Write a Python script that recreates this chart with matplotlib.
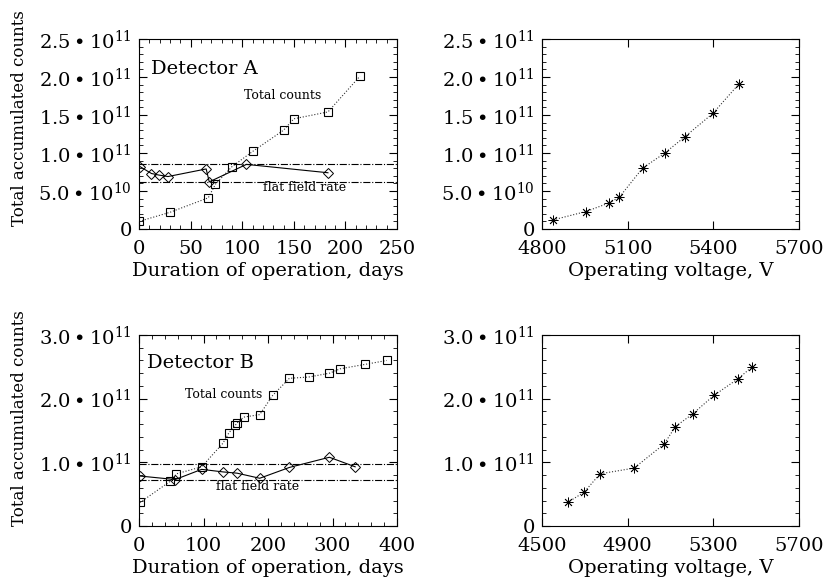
import matplotlib
matplotlib.use("Agg")
import matplotlib.pyplot as plt
from matplotlib.ticker import MultipleLocator, FixedLocator, AutoMinorLocator, FuncFormatter

plt.rcParams["font.family"] = ["DejaVu Serif"]
plt.rcParams["mathtext.fontset"] = "dejavuserif"

# Detector A, counts vs days
a_days = [0, 30, 67, 74, 90, 110, 140, 150, 183, 214]
a_counts = [0.10e11, 0.22e11, 0.41e11, 0.59e11, 0.82e11, 1.02e11, 1.30e11, 1.45e11, 1.54e11, 2.01e11]
# Detector A, flat field rate (diamonds)
a_rate_days = [1, 12, 19, 28, 65, 68, 104, 183]
a_rate = [0.82e11, 0.73e11, 0.71e11, 0.69e11, 0.79e11, 0.62e11, 0.85e11, 0.74e11]
a_flat_lines = [0.85e11, 0.62e11]

# Detector A, counts vs voltage
a_volt = [4839, 4954, 5033, 5071, 5152, 5230, 5299, 5398, 5490]
a_volt_counts = [0.12e11, 0.23e11, 0.34e11, 0.42e11, 0.80e11, 1.00e11, 1.21e11, 1.52e11, 1.91e11]

# Detector B, counts vs days
b_days = [1.5, 48, 58, 97, 130, 139, 149, 152, 162, 187, 207, 233, 263, 295, 312, 351, 384]
b_counts = [0.37e11, 0.70e11, 0.82e11, 0.93e11, 1.30e11, 1.46e11, 1.58e11, 1.62e11, 1.71e11,
            1.75e11, 2.05e11, 2.32e11, 2.34e11, 2.40e11, 2.47e11, 2.54e11, 2.60e11]
b_rate_days = [1.5, 56, 97, 130, 152, 187, 233, 295, 335]
b_rate = [0.785e11, 0.73e11, 0.89e11, 0.85e11, 0.83e11, 0.75e11, 0.92e11, 1.08e11, 0.93e11]
b_flat_lines = [0.98e11, 0.73e11]

# Detector B, counts vs voltage
b_volt = [4619, 4696, 4771, 4930, 5071, 5122, 5203, 5302, 5414, 5481]
b_volt_counts = [0.37e11, 0.53e11, 0.82e11, 0.91e11, 1.29e11, 1.56e11, 1.76e11, 2.05e11, 2.31e11, 2.50e11]

b_volt_ticks = [4500, 4900, 5300, 5700]


def sci_label(v, pos):
    if abs(v) < 1:
        return "0"
    exp = 0
    m = v
    while abs(m) >= 10:
        m /= 10.0
        exp += 1
    return "%.1f\u2009\u2022\u200910" % m + "$^{%d}$" % exp


def style(ax, minor_x=True):
    ax.tick_params(which="both", direction="in", top=True, right=True, labelsize=14)
    ax.tick_params(axis="x", pad=8)
    ax.tick_params(axis="y", pad=5)
    ax.tick_params(which="major", length=6, width=0.8)
    ax.tick_params(which="minor", length=3, width=0.6)
    ax.yaxis.set_minor_locator(AutoMinorLocator(5))
    if minor_x:
        ax.xaxis.set_minor_locator(AutoMinorLocator(5))
    ax.yaxis.set_major_formatter(FuncFormatter(sci_label))
    for s in ax.spines.values():
        s.set_linewidth(0.8)


fig = plt.figure(figsize=(8.23, 5.79), dpi=100)
ax1 = fig.add_axes([0.169, 0.6045, 0.3135, 0.3282])
ax2 = fig.add_axes([0.6586, 0.6045, 0.3123, 0.3282])
ax3 = fig.add_axes([0.169, 0.0915, 0.3135, 0.3299])
ax4 = fig.add_axes([0.6586, 0.0915, 0.3123, 0.3299])

gray = "#333333"
star = (8, 2, 0)

# top-left
ax1.plot(a_days, a_counts, ls=":", lw=0.8, color=gray, marker="s", ms=6,
         mfc="none", mec="black", mew=0.8)
ax1.plot(a_rate_days, a_rate, ls="-", lw=0.8, color="black", marker="D", ms=5,
         mfc="none", mec="black", mew=0.7)
for y in a_flat_lines:
    ax1.axhline(y, ls="-.", lw=0.8, color="black")
ax1.set_xlim(0, 250)
ax1.set_ylim(0, 2.5e11)
ax1.xaxis.set_major_locator(MultipleLocator(50))
ax1.yaxis.set_major_locator(MultipleLocator(0.5e11))
ax1.text(0.045, 0.84, "Detector A", transform=ax1.transAxes, fontsize=14, va="center")
ax1.text(102, 1.75e11, "Total counts", fontsize=9, va="center")
ax1.text(120, 0.55e11, "flat field rate", fontsize=9, va="center")
ax1.set_xlabel("Duration of operation, days", fontsize=14, labelpad=3)
ax1.set_ylabel("Total accumulated counts", fontsize=12)
ax1.yaxis.set_label_coords(-0.43, 0.585)
style(ax1)

# top-right
ax2.plot(a_volt, a_volt_counts, ls=":", lw=0.8, color=gray, marker=star, ms=7,
         mec="black", mew=0.6)
ax2.set_xlim(4800, 5700)
ax2.set_ylim(0, 2.5e11)
ax2.xaxis.set_major_locator(MultipleLocator(300))
ax2.yaxis.set_major_locator(MultipleLocator(0.5e11))
ax2.set_xlabel("Operating voltage, V", fontsize=14, labelpad=3)
style(ax2, minor_x=False)

# bottom-left
ax3.plot(b_days, b_counts, ls=":", lw=0.8, color=gray, marker="s", ms=6,
         mfc="none", mec="black", mew=0.8)
ax3.plot(b_rate_days, b_rate, ls="-", lw=0.8, color="black", marker="D", ms=5,
         mfc="none", mec="black", mew=0.7)
for y in b_flat_lines:
    ax3.axhline(y, ls="-.", lw=0.8, color="black")
ax3.set_xlim(0, 400)
ax3.set_ylim(0, 3.0e11)
ax3.xaxis.set_major_locator(MultipleLocator(100))
ax3.yaxis.set_major_locator(MultipleLocator(1e11))
ax3.text(0.03, 0.855, "Detector B", transform=ax3.transAxes, fontsize=14, va="center")
ax3.text(71, 2.07e11, "Total counts", fontsize=9, va="center")
ax3.text(120, 0.62e11, "flat field rate", fontsize=9, va="center")
ax3.set_xlabel("Duration of operation, days", fontsize=14, labelpad=3)
ax3.set_ylabel("Total accumulated counts", fontsize=12)
ax3.yaxis.set_label_coords(-0.43, 0.565)
style(ax3)

# bottom-right
ax4.plot(b_volt, b_volt_counts, ls=":", lw=0.8, color=gray, marker=star, ms=7,
         mec="black", mew=0.6)
ax4.set_xlim(4500, 5700)
ax4.set_ylim(0, 3.0e11)
ax4.xaxis.set_major_locator(FixedLocator(b_volt_ticks))
ax4.yaxis.set_major_locator(MultipleLocator(1e11))
ax4.set_xlabel("Operating voltage, V", fontsize=14, labelpad=3)
style(ax4, minor_x=False)

fig.savefig("out.png", dpi=100)
